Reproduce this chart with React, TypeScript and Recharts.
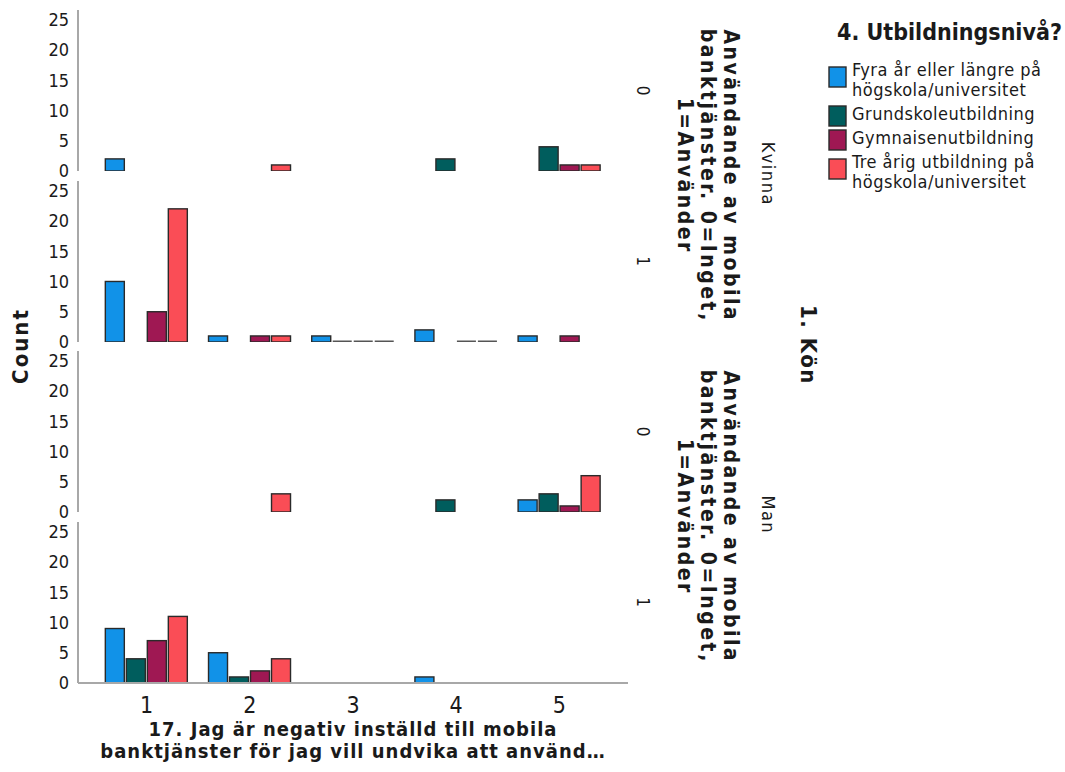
import React from 'react'
import { BarChart, Bar, XAxis, YAxis } from 'recharts'

// answer categories on the x axis
const categories = ['1', '2', '3', '4', '5']
const yTicks = [0, 5, 10, 15, 20, 25]

const seriesColors = ['#1192e8', '#005d5d', '#9f1853', '#fa4d56']
const legendLines = [
  ['Fyra år eller längre på', 'högskola/universitet'],
  ['Grundskoleutbildning'],
  ['Gymnaisenutbildning'],
  ['Tre årig utbildning på', 'högskola/universitet'],
]

// counts, one row per education level, one column per category (null = no bar)
const kvinnaInget = [
  [2, null, null, null, null],
  [null, null, null, 2, 4],
  [null, null, null, null, 1],
  [null, 1, null, null, 1],
]
const kvinnaAnvander = [
  [10, 1, 1, 2, 1],
  [null, null, 0, null, null],
  [5, 1, 0, 0, 1],
  [22, 1, 0, 0, null],
]
const manInget = [
  [null, null, null, null, 2],
  [null, null, null, 2, 3],
  [null, null, null, null, 1],
  [null, 3, null, null, 6],
]
const manAnvander = [
  [9, 5, null, 1, null],
  [4, 1, null, null, null],
  [7, 2, null, null, null],
  [11, 4, null, null, null],
]

const panels = [
  { values: kvinnaInget, row: '0' },
  { values: kvinnaAnvander, row: '1' },
  { values: manInget, row: '0' },
  { values: manAnvander, row: '1' },
]
const groups = ['Kvinna', 'Man']
const groupTitle = ['Användande av mobila', 'banktjänster. 0=Inget,', '1=Använder']

const FONT = "'Liberation Sans Narrow', 'DejaVu Sans Condensed', sans-serif"
const AXIS = '#a8a8a8'
const INK = '#1a1a1a'

const PLOT_TOP = 10
const PLOT_H = 161
const STEP = 170.5
const PLOT_RIGHT = 628
const PAD_BOTTOM = 12

const barShape = (key: string, color: string) => (props: any) => {
  const { x, y, width, height, payload } = props
  const v = payload?.[key]
  if (v == null || !isFinite(x) || !isFinite(y)) return <g />
  if (v === 0 || !height) {
    return <rect x={x} y={y - 1.5} width={width} height={2} fill="#555" />
  }
  return <rect x={x} y={y} width={width} height={height} fill={color} stroke="#2a2a2a" strokeWidth={1.4} />
}

function Panel({ values, showX }: { values: (number | null)[][]; showX: boolean }) {
  const rows = categories.map((c, i) => {
    const r: any = { cat: c }
    values.forEach((s, j) => { r['s' + j] = s[i] })
    return r
  })
  return (
    <BarChart
      width={PLOT_RIGHT + 12}
      height={showX ? PLOT_H + 40 : PLOT_H + PAD_BOTTOM}
      data={rows}
      margin={{ top: 0, right: 12, bottom: showX ? 0 : PAD_BOTTOM, left: 0 }}
      barCategoryGap="10%"
      barGap={2}
    >
      <XAxis
        dataKey="cat"
        padding={{ left: 17, right: 17 }}
        axisLine={{ stroke: AXIS, strokeWidth: 2 }}
        tickLine={false}
        height={showX ? 40 : 0}
        tick={showX ? { fill: INK, fontSize: 23, fontFamily: FONT } : false}
        tickMargin={8}
      />
      <YAxis
        width={78}
        domain={[0, 26.6]}
        ticks={yTicks}
        interval={0}
        allowDataOverflow
        axisLine={{ stroke: AXIS, strokeWidth: 2 }}
        tickLine={false}
        tickSize={0}
        tickMargin={9}
        tick={{ fill: INK, fontSize: 18, fontFamily: FONT }}
      />
      {values.map((_, j) => (
        <Bar
          key={j}
          dataKey={'s' + j}
          fill={seriesColors[j]}
          isAnimationActive={false}
          shape={barShape('s' + j, seriesColors[j])}
        />
      ))}
    </BarChart>
  )
}

function Rot({ x, y, text, size, bold, deg = 90, ls = 0 }: { x: number; y: number; text: string; size: number; bold?: boolean; deg?: number; ls?: number }) {
  return (
    <text
      x={x}
      y={y}
      transform={`rotate(${deg} ${x} ${y})`}
      textAnchor="middle"
      dominantBaseline="central"
      fontSize={size}
      fontWeight={bold ? 'bold' : 'normal'}
      letterSpacing={ls}
      fill={INK}
    >
      {text}
    </text>
  )
}

export default function App() {
  let baseline = 76
  const legendItems = legendLines.map((lines, i) => {
    const b = baseline
    baseline += (lines.length - 1) * 20 + 24
    const swCenter = b - 4 + (lines.length - 1) * 5
    return (
      <g key={i}>
        <rect x={829} y={swCenter - 10} width={17} height={20} fill={seriesColors[i]} stroke="#2a2a2a" strokeWidth={1.4} />
        {lines.map((l, k) => (
          <text key={k} x={852} y={b + k * 20} fontSize={18} letterSpacing={0.5} fill={INK}>{l}</text>
        ))}
      </g>
    )
  })

  return (
    <div style={{ position: 'absolute', left: 0, top: 0, width: 1065, height: 772, background: '#fff', fontFamily: FONT }}>
      {panels.map((p, i) => (
        <div key={i} style={{ position: 'absolute', left: 0, top: PLOT_TOP + i * STEP }}>
          <Panel values={p.values} showX={i === panels.length - 1} />
        </div>
      ))}
      <svg width={1065} height={772} style={{ position: 'absolute', left: 0, top: 0, pointerEvents: 'none', fontFamily: FONT }}>
        <Rot x={20} y={346} text="Count" size={22} bold deg={-90} ls={2} />
        <text x={353} y={736} textAnchor="middle" fontSize={20} letterSpacing={1} fontWeight="bold" fill={INK}>
          17. Jag är negativ inställd till mobila
        </text>
        <text x={353} y={758} textAnchor="middle" fontSize={20} letterSpacing={1} fontWeight="bold" fill={INK}>
          banktjänster för jag vill undvika att använd…
        </text>
        {panels.map((p, i) => (
          <Rot key={i} x={643} y={PLOT_TOP + i * STEP + PLOT_H / 2} text={p.row} size={17} />
        ))}
        {groups.map((g, gi) => {
          const cy = PLOT_TOP + gi * 2 * STEP + (STEP + PLOT_H) / 2
          return (
            <g key={g}>
              {groupTitle.map((t, k) => (
                <Rot key={k} x={731 - k * 23} y={cy} text={t} size={21} bold ls={2.5} />
              ))}
              <Rot x={768} y={cy - 2} text={g} size={18} ls={1.5} />
            </g>
          )
        })}
        <Rot x={808} y={345} text="1. Kön" size={22} bold ls={1.5} />
        <text x={837} y={40} fontSize={23} fontWeight="bold" fill={INK}>4. Utbildningsnivå?</text>
        {legendItems}
      </svg>
    </div>
  )
}
